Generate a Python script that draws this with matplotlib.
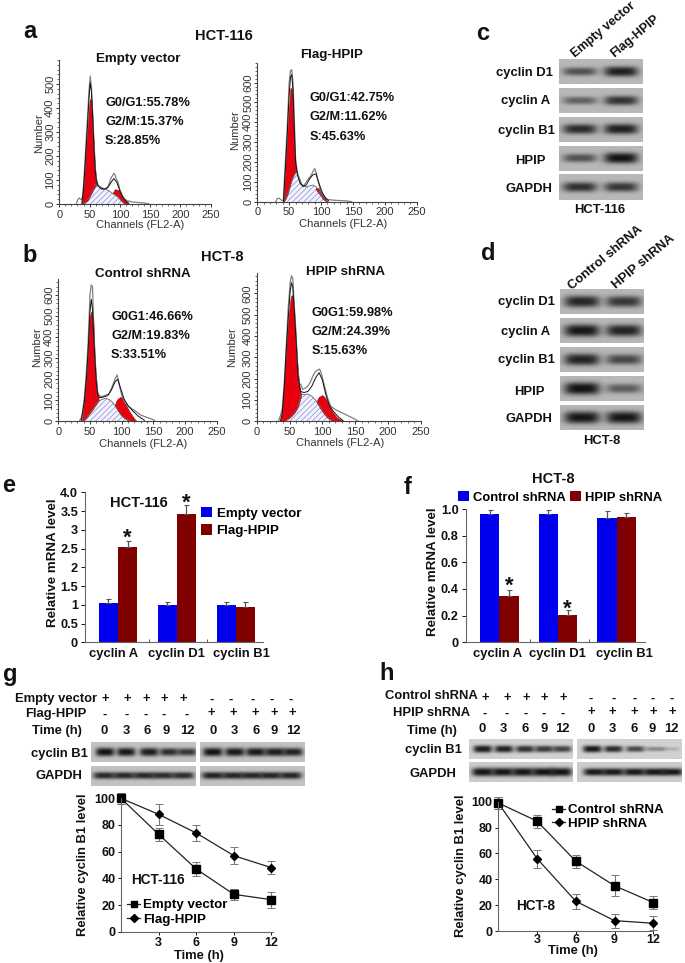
import numpy as np
import matplotlib
matplotlib.use("Agg")
import matplotlib.pyplot as plt
from matplotlib.lines import Line2D
from matplotlib.ticker import MultipleLocator

plt.rcParams['font.family'] = ['Liberation Sans', 'DejaVu Sans']
plt.rcParams['hatch.linewidth'] = 0.45
W, H = 685, 963
fig = plt.figure(figsize=(W/100, H/100), dpi=100, facecolor='white')

# ---------- flow cytometry data (channel, count) ----------
A1_OBS_X = [28,30,33,36,38,41,44,47,49,51,53,55,57,59,61,64,68,72,76,80,83,86,88,90,92,94,97,100,104,108,112,120,130,140,148]
A1_OBS_Y = [0,15,25,18,25,110,250,380,470,533,490,385,265,165,105,78,66,60,64,70,90,112,118,128,122,105,92,60,35,20,14,9,6,4,1]
A1_FIT_X = [37,40,44,47,49,51,53,55,57,59,61,64,68,74,80,85,90,95,100,105,110,115]
A1_FIT_Y = [0,60,225,345,440,505,470,365,245,150,98,76,66,62,68,88,106,90,55,28,12,3]
A1_G1_X = [37,40,44,47,50,52,53.5,56,59,62]
A1_G1_TOP = [0,60,220,320,430,442,430,300,150,82]
A1_G1_BOT = [0,3,10,16,30,40,46,60,74,82]
A1_S_X = [40,50,55,59,65,72,80,88,95,102,108]
A1_S_Y = [0,30,58,82,76,66,58,44,32,14,0]
A1_G2_X = [88,92,97,100,104,108,114]
A1_G2_TOP = [46,62,58,52,34,18,0]
A1_G2_BOT = [46,40,31,22,10,2,0]

A2_OBS_X = [29,31,34,37,39,41,44,47,50,52,54,56,58,60,62,65,68,72,76,80,84,87,90,92,95,98,101,105,110,118,128,140,148]
A2_OBS_Y = [0,15,18,10,5,10,200,380,600,660,665,600,420,220,165,120,90,78,95,115,130,150,167,150,110,70,45,25,12,8,6,4,0]
A2_FIT_X = [41,44,47,50,52,54,56,58,60,63,67,72,77,82,87,92,97,102,107,112]
A2_FIT_Y = [0,170,340,540,625,640,560,370,200,135,95,76,85,115,135,140,90,45,18,4]
A2_G1_X = [41,44,47,50,52,55,57,59,61]
A2_G1_TOP = [0,160,320,485,573,565,360,220,154]
A2_G1_BOT = [0,12,35,65,90,120,135,145,154]
A2_S_X = [42,50,55,61,65,70,76,82,87,92,97,103,109]
A2_S_Y = [0,65,115,154,128,88,74,80,84,76,52,18,0]
A2_G2_X = [91,95,99,103,106,110]
A2_G2_TOP = [66,70,56,36,18,0]
A2_G2_BOT = [66,48,32,14,6,0]

B1_OBS_X = [33,36,38,41,44,47,50,52,54,56,58,60,62,65,70,75,80,85,90,93,96,100,105,110,116,122,130,140,150,153]
B1_OBS_Y = [0,15,40,110,220,370,600,648,640,450,300,210,140,120,118,125,130,165,205,220,175,125,90,72,60,48,30,18,8,0]
B1_FIT_X = [36,41,44,47,50,52,54,56,58,60,62,65,70,78,84,90,94,98,104,110,118,126,136]
B1_FIT_Y = [0,90,190,330,520,580,530,400,280,185,130,112,114,122,150,190,200,160,105,75,48,25,5]
B1_G1_X = [37,41,44,47,50,52,55,57,59,62,64]
B1_G1_TOP = [0,90,190,320,500,521,500,340,220,130,100]
B1_G1_BOT = [0,8,16,28,40,48,60,70,78,92,100]
B1_S_X = [40,50,60,65,70,75,80,85,90,95,100,108,115]
B1_S_Y = [0,40,85,98,105,109,104,92,72,48,26,8,0]
B1_G2_X = [89,92,95,99,103,108,114,120,124]
B1_G2_TOP = [76,100,110,117,100,70,38,12,0]
B1_G2_BOT = [76,62,48,30,18,8,2,0,0]

B2_OBS_X = [33,36,39,42,45,48,51,53,55,57,60,62,65,67,70,74,78,82,86,90,93,96,99,103,108,113,120,130,140,150,155]
B2_OBS_Y = [0,25,60,180,350,530,650,683,670,560,410,280,170,175,150,155,165,185,215,235,240,245,220,170,110,70,55,40,25,10,0]
B2_FIT_X = [36,39,42,45,48,51,53,55,57,60,63,67,72,78,84,90,95,100,105,110,116,124,132]
B2_FIT_Y = [0,40,160,330,480,610,650,630,530,380,210,140,135,140,165,205,228,195,130,80,50,22,2]
B2_G1_X = [36,38,41,44,46,49,52,54,56,58,60,62,65,68]
B2_G1_TOP = [0,30,147,280,381,500,585,592,570,480,370,270,160,125]
B2_G1_BOT = [0,0,3,7,9,14,22,28,35,42,52,62,90,125]
B2_S_X = [44,52,58,62,68,73,78,84,90,96,102,108,116]
B2_S_Y = [0,20,42,62,125,126,128,118,98,72,44,22,0]
B2_G2_X = [91,94,97,100,104,108,114,122,132]
B2_G2_TOP = [90,112,118,123,112,88,50,18,0]
B2_G2_BOT = [90,76,60,46,30,16,4,0,0]

# ---------- bar data ----------
GENES = ['cyclin A', 'cyclin D1', 'cyclin B1']
E_EMPTY = [1.05, 1.00, 1.00]
E_EMPTY_ERR = [0.10, 0.07, 0.07]
E_FLAG = [2.55, 3.42, 0.95]
E_FLAG_ERR = [0.15, 0.23, 0.12]
F_CONTROL = [0.96, 0.96, 0.935]
F_CONTROL_ERR = [0.035, 0.03, 0.05]
F_HPIP = [0.345, 0.205, 0.94]
F_HPIP_ERR = [0.045, 0.035, 0.03]

# ---------- time-course data ----------
TIME = [0, 3, 6, 9, 12]
G_EMPTY = [100, 73, 47, 28, 24]
G_EMPTY_ERR = [4, 5, 5.5, 4, 6]
G_FLAG = [100, 88, 74, 57, 48]
G_FLAG_ERR = [4, 8, 6, 6.5, 5]
H_CONTROL = [99, 85, 54, 35, 22]
H_CONTROL_ERR = [5, 5, 5, 8, 5]
H_HPIP = [99, 56, 23, 8, 6]
H_HPIP_ERR = [5, 7, 6, 5.5, 5.5]

# ---------- western blot band darkness ----------
C_BANDS = {'D1': [.62, .92], 'A': [.52, .80], 'B1': [.85, .92], 'HPIP': [.62, 1.0], 'GAPDH': [.82, .78]}
D_BANDS = {'D1': [.88, .78], 'A': [.97, .90], 'B1': [.90, .68], 'HPIP': [1.0, .55], 'GAPDH': [.97, .97]}
G_B1_L = [1.0, .97, .95, .85, .80]
G_B1_R = [1.0, .97, .97, .95, .92]
G_GAPDH_L = [.88, .88, .88, .86, .86]
G_GAPDH_R = [.92, .90, .90, .90, .90]
H_B1_L = [.97, .93, .85, .80, .75]
H_B1_R = [.98, .88, .72, .38, .18]
H_GAPDH_L = [1.0, 1.0, 1.0, 1.0, 1.0]
H_GAPDH_R = [.97, .98, .98, .98, .98]


def fx(x): return x / W
def fy(y): return 1 - y / H


def px_axes(l, t, r, b, **kw):
    return fig.add_axes([fx(l), fy(b), (r - l) / W, (b - t) / H], **kw)


def T(x, y, s, size=9.4, weight='bold', ha='center', va='center', **kw):
    return fig.text(fx(x), fy(y), s, fontsize=size, fontweight=weight, ha=ha, va=va, color='#111111', **kw)


def clean(ax):
    ax.patch.set_alpha(0)
    ax.spines['top'].set_visible(False)
    ax.spines['right'].set_visible(False)


def hist_panel(box, ytop, ymaxlab, ox, oy, fitx, fity, g1x, g1t, g1b, sx, sy, g2x, g2t, g2b, xlab, ylab):
    ax = px_axes(*box)
    clean(ax)
    ax.set_xlim(0, 250)
    ax.set_ylim(0, ytop)
    ax.fill_between(sx, 0, sy, facecolor='#f1f2fb', edgecolor='#7d84d2', hatch='//////', linewidth=0)
    ax.plot(sx, sy, color='#666666', lw=0.6)
    ax.fill_between(g1x, g1b, g1t, facecolor='#e8000f', edgecolor='#8a0a10', lw=0.4)
    ax.fill_between(g2x, g2b, g2t, facecolor='#e8000f', edgecolor='#8a0a10', lw=0.4)
    ax.plot(ox, oy, color='#808080', lw=0.9)
    ax.plot(fitx, fity, color='#111111', lw=0.7)
    ax.xaxis.set_major_locator(MultipleLocator(50))
    ax.xaxis.set_minor_locator(MultipleLocator(10))
    ax.set_yticks(list(range(0, ymaxlab + 1, 100)))
    ax.yaxis.set_minor_locator(MultipleLocator(20))
    ax.tick_params(which='major', length=2.4, width=0.7, labelsize=8, colors='#333333')
    ax.tick_params(axis='x', which='major', pad=1.6)
    ax.tick_params(axis='y', which='major', pad=0.6)
    ax.tick_params(which='minor', length=1.3, width=0.6, colors='#555555')
    for s in ('left', 'bottom'):
        ax.spines[s].set_linewidth(0.8)
        ax.spines[s].set_color('#444444')
    for lb in ax.get_yticklabels():
        lb.set_rotation(90)
        lb.set_va('center')
    ax.set_xlabel('Channels (FL2-A)', fontsize=8, color='#333333')
    ax.xaxis.set_label_coords(fx(xlab[0]), fy(xlab[1]), transform=fig.transFigure)
    ax.xaxis.label.set_va('center')
    ax.set_ylabel('Number', fontsize=8, color='#333333')
    ax.yaxis.set_label_coords(fx(ylab[0]), fy(ylab[1]), transform=fig.transFigure)
    ax.yaxis.label.set_va('center')
    return ax


def blot(box, lanes, darkness, half, bg=0.70, thick=4.0):
    l, t, r, b = box
    ax = px_axes(l, t, r, b)
    xs = np.linspace(l, r, int((r - l) * 3))
    ys = np.linspace(t, b, int((b - t) * 3))
    X, Y = np.meshgrid(xs, ys)
    ym = (t + b) / 2
    img = np.ones_like(X)
    for c, d in zip(lanes, darkness):
        th = thick * (0.55 + 0.65 * d)
        prof = np.exp(-np.abs((X - c) / half) ** 4) * np.exp(-np.abs((Y - ym) / th) ** 2.6)
        img *= (1 - d * 0.9 * prof)
    ax.imshow(img * bg, cmap='gray', vmin=0, vmax=1, aspect='auto', extent=(l, r, b, t), interpolation='bilinear')
    ax.axis('off')
    return ax


def bar_panel(box, ylim, c0, spacing, width, a, aerr, b, berr, ticks, ticklabels, ylab, stars, glabx):
    l, t, r, bt = box
    ax = px_axes(l, t, r, bt)
    clean(ax)
    ax.set_xlim((l - c0) / spacing, (r - c0) / spacing)
    ax.set_ylim(0, ylim)
    x = np.arange(3)
    ek = dict(ecolor='#555555', elinewidth=0.9, capsize=1.8, capthick=0.8)
    b1 = ax.bar(x - width / 2, a, width, color='#0000ee', yerr=[np.zeros(3), aerr], error_kw=ek)
    b2 = ax.bar(x + width / 2, b, width, color='#800000', yerr=[np.zeros(3), berr], error_kw=ek)
    ax.set_yticks(ticks)
    ax.set_yticklabels(ticklabels)
    ax.set_xticks([0.5 + 0.03, 1.5 + 0.02], labels=[])
    for gx, g in zip(glabx, GENES):
        T(gx, 654, g)
    ax.tick_params(axis='y', length=3, width=0.7, labelsize=9.2, pad=2, colors='#111111')
    ax.tick_params(axis='x', length=2.5, width=0.7, direction='in', colors='#555555')
    for lb in ax.get_yticklabels():
        lb.set_fontweight('bold')
    for s in ('left', 'bottom'):
        ax.spines[s].set_linewidth(0.8)
        ax.spines[s].set_color('#666666')
    ax.set_ylabel('Relative mRNA level', fontsize=9.6, fontweight='bold', color='#111111')
    ax.yaxis.set_label_coords(fx(ylab[0]), fy(ylab[1]), transform=fig.transFigure)
    ax.yaxis.label.set_va('center')
    for i, yy in stars:
        ax.text(i + width / 2, yy, '*', ha='center', va='center', fontsize=16, fontweight='bold', color='#111111')
    return ax, b1, b2


def line_panel(box, xlim, a, aerr, b, berr, ylab, xlab, xpad):
    ax = px_axes(*box)
    clean(ax)
    ax.set_xlim(0, xlim)
    ax.set_ylim(0, 100)
    ek = dict(ecolor='#777777', elinewidth=0.8, capsize=2.6, capthick=0.7)
    ax.errorbar(TIME, a, yerr=aerr, color='#222222', lw=0.9, marker='s', ms=5.8, mfc='black', mec='black', clip_on=False, **ek)
    ax.errorbar(TIME, b, yerr=berr, color='#222222', lw=0.9, marker='D', ms=4.4, mfc='black', mec='black', clip_on=False, **ek)
    ax.set_xticks([3, 6, 9, 12])
    ax.set_yticks([0, 20, 40, 60, 80, 100])
    ax.tick_params(axis='both', length=2.5, width=0.7, direction='out', labelsize=9.0, pad=1.5, colors='#111111')
    ax.tick_params(axis='x', pad=xpad)
    for lb in ax.get_xticklabels() + ax.get_yticklabels():
        lb.set_fontweight('bold')
    for s in ('left', 'bottom'):
        ax.spines[s].set_linewidth(0.8)
        ax.spines[s].set_color('#666666')
    ax.set_ylabel('Relative cyclin B1 level', fontsize=9.4, fontweight='bold', color='#111111')
    ax.yaxis.set_label_coords(fx(ylab[0]), fy(ylab[1]), transform=fig.transFigure)
    ax.yaxis.label.set_va('center')
    ax.set_xlabel('Time (h)', fontsize=9.4, fontweight='bold', color='#111111')
    ax.xaxis.set_label_coords(fx(xlab[0]), fy(xlab[1]), transform=fig.transFigure)
    ax.xaxis.label.set_va('center')
    return ax


# ---------- panel a / b ----------
hist_panel((59.3, 60, 210.7, 204), 600, 500, A1_OBS_X, A1_OBS_Y, A1_FIT_X, A1_FIT_Y, A1_G1_X, A1_G1_TOP, A1_G1_BOT,
           A1_S_X, A1_S_Y, A1_G2_X, A1_G2_TOP, A1_G2_BOT, (140, 225), (39, 133))
hist_panel((257.3, 62.7, 416.7, 201.7), 700, 600, A2_OBS_X, A2_OBS_Y, A2_FIT_X, A2_FIT_Y, A2_G1_X, A2_G1_TOP, A2_G1_BOT,
           A2_S_X, A2_S_Y, A2_G2_X, A2_G2_TOP, A2_G2_BOT, (343, 224), (235, 130))
hist_panel((58.3, 279.3, 216.7, 421.3), 675, 600, B1_OBS_X, B1_OBS_Y, B1_FIT_X, B1_FIT_Y, B1_G1_X, B1_G1_TOP, B1_G1_BOT,
           B1_S_X, B1_S_Y, B1_G2_X, B1_G2_TOP, B1_G2_BOT, (143, 444), (37, 347))
hist_panel((256.7, 272.7, 420.7, 421.3), 697, 600, B2_OBS_X, B2_OBS_Y, B2_FIT_X, B2_FIT_Y, B2_G1_X, B2_G1_TOP, B2_G1_BOT,
           B2_S_X, B2_S_Y, B2_G2_X, B2_G2_TOP, B2_G2_BOT, (340, 443), (232, 347))

for x, y, s in [(30, 32, 'a'), (30, 256, 'b'), (483, 33, 'c'), (488, 253, 'd'),
                (9, 486, 'e'), (408, 487, 'f'), (10, 675, 'g'), (387, 674, 'h')]:
    T(x, y, s, size=17)

T(224, 36, 'HCT-116', size=10.5)
T(138, 59, 'Empty vector', size=9.6)
T(332, 55, 'Flag-HPIP', size=9.6)
for x, ys, lines in [(105, (103, 122, 141), ('G0/G1:55.78%', 'G2/M:15.37%', 'S:28.85%')),
                     (310, (98, 117, 137), ('G0/G1:42.75%', 'G2/M:11.62%', 'S:45.63%')),
                     (111, (317, 336, 355), ('G0G1:46.66%', 'G2/M:19.83%', 'S:33.51%')),
                     (312, (313, 332, 351), ('G0G1:59.98%', 'G2/M:24.39%', 'S:15.63%'))]:
    for y, s in zip(ys, lines):
        T(x, y, s, size=9.2, ha='left')
T(222, 257, 'HCT-8', size=10.5)
T(143, 274, 'Control shRNA', size=9.6)
T(345, 272, 'HPIP shRNA', size=9.6)

# ---------- panel c ----------
c_rows = [(59, 84), (87.7, 112.7), (116.7, 142), (145.7, 171), (174.3, 199.7)]
for (t, b), k in zip(c_rows, ['D1', 'A', 'B1', 'HPIP', 'GAPDH']):
    blot((559.3, t, 642.7, b), [580, 621], C_BANDS[k], 17, bg=0.72, thick=4.4)
for x, y, s in [(524, 73, 'cyclin D1'), (526, 101, 'cyclin A'), (526, 131, 'cyclin B1'),
                (530, 161, 'HPIP'), (529, 189, 'GAPDH')]:
    T(x, y, s)
T(600, 210, 'HCT-116')
T(603, 30, 'Empty vector', size=9, rotation=40)
T(635, 36, 'Flag-HPIP', size=9, rotation=40)

# ---------- panel d ----------
d_rows = [(289, 314), (317.7, 342.7), (347.3, 372.3), (376, 401), (405.3, 430.3)]
for (t, b), k in zip(d_rows, ['D1', 'A', 'B1', 'HPIP', 'GAPDH']):
    blot((560, t, 644, b), [582, 624], D_BANDS[k], 18, bg=0.72, thick=5.2)
for x, y, s in [(526, 302, 'cyclin D1'), (526, 332, 'cyclin A'), (526, 360, 'cyclin B1'),
                (529, 392, 'HPIP'), (529, 419, 'GAPDH')]:
    T(x, y, s)
T(602, 441, 'HCT-8')
T(606, 258, 'Control shRNA', rotation=40)
T(644, 262, 'HPIP shRNA', rotation=40)

# ---------- panel e ----------
ax_e, be1, be2 = bar_panel((85, 492.3, 263.3, 642.3), 4.0, 118, 58.85, 0.323, E_EMPTY, E_EMPTY_ERR, E_FLAG, E_FLAG_ERR,
                           [0, .5, 1, 1.5, 2, 2.5, 3, 3.5, 4], ['0', '0.5', '1', '1.5', '2', '2.5', '3', '3.5', '4.0'],
                           (53, 563), [(0, 2.78), (1, 3.70)], (114, 176.5, 241))
T(139, 503, 'HCT-116', size=10.5)
ax_e.legend([be1, be2], ['Empty vector', 'Flag-HPIP'], frameon=False, loc='upper left',
            bbox_to_anchor=(fx(201), fy(507)), bbox_transform=fig.transFigure, borderaxespad=0, borderpad=0,
            prop={'size': 9.6, 'weight': 'bold'}, handlelength=0.82, handleheight=0.82, handletextpad=0.35, labelspacing=0.35)

# ---------- panel f ----------
ax_f, bf1, bf2 = bar_panel((465.7, 509, 645, 642.3), 1.0, 499.3, 58.7, 0.329, F_CONTROL, F_CONTROL_ERR, F_HPIP, F_HPIP_ERR,
                           [0, .2, .4, .6, .8, 1.0], ['0', '0.2', '0.4', '0.6', '0.8', '1.0'],
                           (433, 572), [(0, 0.42), (1, 0.245)], (498, 557, 624))
T(553, 479, 'HCT-8', size=10.5)
ax_f.legend([bf1, bf2], ['Control shRNA', 'HPIP shRNA'], frameon=False, loc='upper left', ncol=2,
            bbox_to_anchor=(fx(458), fy(491)), bbox_transform=fig.transFigure, borderaxespad=0, borderpad=0,
            prop={'size': 9.4, 'weight': 'bold'}, handlelength=0.85, handleheight=0.85, handletextpad=0.3, columnspacing=0.3)

# ---------- panel g ----------
T(97, 699, 'Empty vector', ha='right')
T(56, 714, 'Flag-HPIP')
T(57, 731, 'Time (h)')
for x, y, s in zip([105, 127, 146, 164, 183, 212, 231, 253, 272, 291], [699]*5 + [700]*5, ['+']*5 + ['-']*5):
    T(x, y, s)
for x, y, s in zip([105, 127, 146, 164, 187, 211, 233, 255, 274, 292], [715]*5 + [713]*5, ['-']*5 + ['+']*5):
    T(x, y, s)
for x, s in zip([104, 126, 147, 166, 187, 213, 234, 256, 274, 293], ['0', '3', '6', '9', '12']*2):
    T(x, 731, s)
T(59, 754, 'cyclin B1')
T(59, 776, 'GAPDH')
blot((91, 741.7, 195.7, 761.7), [105, 126, 149, 169, 187], G_B1_L, 9.5, bg=0.76, thick=3.6)
blot((200.3, 741.7, 305, 761.7), [213, 235, 256, 275, 293], G_B1_R, 10, bg=0.76, thick=3.6)
blot((91, 766, 195.7, 786), [104, 124, 144, 163, 183], G_GAPDH_L, 11, bg=0.76, thick=3.0)
blot((200.3, 766, 305, 786), [213, 233, 252, 271, 291], G_GAPDH_R, 11, bg=0.76, thick=3.0)
ax_g = line_panel((121, 798.3, 273.3, 931.7), 12.15, G_EMPTY, G_EMPTY_ERR, G_FLAG, G_FLAG_ERR, (83, 865), (199, 955.5), 1.4)
T(158, 880, 'HCT-116', size=9.8)
ax_g.legend([Line2D([], [], color='#222222', lw=0.9, marker='s', ms=4.6, mfc='black', mec='black'),
             Line2D([], [], color='#222222', lw=0.9, marker='D', ms=3.6, mfc='black', mec='black')],
            ['Empty vector', 'Flag-HPIP'], frameon=False, loc='upper left',
            bbox_to_anchor=(fx(127), fy(899)), bbox_transform=fig.transFigure, borderaxespad=0, borderpad=0,
            prop={'size': 9.6, 'weight': 'bold'}, handlelength=1.0, handletextpad=0.2, labelspacing=0.15)

# ---------- panel h ----------
T(478, 696, 'Control shRNA', ha='right')
T(470, 713, 'HPIP shRNA', ha='right')
T(457, 731, 'Time (h)', ha='right')
for x, y, s in zip([485, 507, 526, 544, 563, 591, 614, 635, 653, 672], [698]*5 + [699]*5, ['+']*5 + ['-']*5):
    T(x, y, s)
for x, y, s in zip([485, 507, 526, 544, 563, 591, 612, 634, 653, 672], [714]*5 + [712]*5, ['-']*5 + ['+']*5):
    T(x, y, s)
for x, s in zip([482, 503, 525, 544, 562, 591, 612, 634, 652, 671], ['0', '3', '6', '9', '12']*2):
    T(x, 729, s)
T(433, 750, 'cyclin B1')
T(433, 774, 'GAPDH')
blot((469.3, 739, 572.7, 759), [483, 504, 525, 544, 562], H_B1_L, 9.5, bg=0.82, thick=3.2)
blot((576.7, 739, 681.7, 759), [592, 613, 635, 655, 670], H_B1_R, 9.5, bg=0.82, thick=3.0)
blot((469.3, 762.3, 572.7, 782.3), [483, 503, 523, 543, 561], H_GAPDH_L, 11, bg=0.80, thick=3.6)
blot((576.7, 762.3, 681.7, 782.3), [594, 613, 634, 654, 672], H_GAPDH_R, 11, bg=0.80, thick=3.2)
ax_h = line_panel((498.3, 801.7, 653.3, 931), 12.0, H_CONTROL, H_CONTROL_ERR, H_HPIP, H_HPIP_ERR, (461, 866), (573, 951), -0.6)
T(536, 906, 'HCT-8', size=9.8)
ax_h.legend([Line2D([], [], color='#222222', lw=0.9, marker='s', ms=4.6, mfc='black', mec='black'),
             Line2D([], [], color='#222222', lw=0.9, marker='D', ms=3.6, mfc='black', mec='black')],
            ['Control shRNA', 'HPIP shRNA'], frameon=False, loc='upper left',
            bbox_to_anchor=(fx(552), fy(804)), bbox_transform=fig.transFigure, borderaxespad=0, borderpad=0,
            prop={'size': 9.6, 'weight': 'bold'}, handlelength=1.0, handletextpad=0.2, labelspacing=0.1)

fig.savefig('out.png', dpi=100, facecolor='white')
